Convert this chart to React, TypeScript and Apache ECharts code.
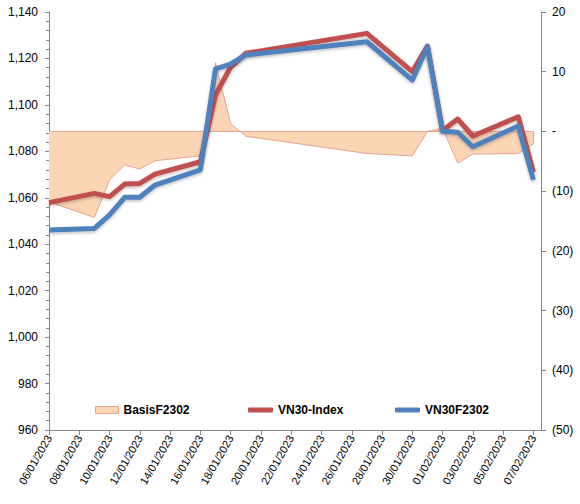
import React, { useEffect, useRef } from "react";
import * as echarts from "echarts";

const dates = [
  "06/01/2023", "09/01/2023", "10/01/2023", "11/01/2023", "12/01/2023", "13/01/2023",
  "16/01/2023", "17/01/2023", "18/01/2023", "19/01/2023", "27/01/2023", "30/01/2023",
  "31/01/2023", "01/02/2023", "02/02/2023", "03/02/2023", "06/02/2023", "07/02/2023",
];
const vn30Index = [
  1057.9, 1061.9, 1060.5, 1065.9, 1066.2, 1070.2, 1075.5, 1104.3, 1116.3, 1122.2,
  1130.8, 1114.3, 1125.3, 1089.0, 1093.9, 1086.6, 1094.9, 1071.0,
];
const vn30F2302 = [
  1046.1, 1046.8, 1052.6, 1060.2, 1060.2, 1065.5, 1072.0, 1115.5, 1117.6, 1121.5,
  1127.2, 1110.7, 1125.1, 1088.6, 1088.2, 1082.0, 1090.9, 1067.7,
];
const basisF2302 = [
  -11.8, -14.4, -8.1, -5.6, -6.3, -4.9, -4.1, 11.5, 1.3, -0.8,
  -3.7, -4.1, 0.0, 0.5, -5.3, -3.8, -3.7, -2.1,
];
const leftTicks = { min: 960, max: 1140, step: 20 };
const rightTicks = { min: -50, max: 20, step: 10 };

const DAY = 86400000;
const parseDate = (s: string) => {
  const [d, m, y] = s.split("/").map(Number);
  return Date.UTC(y, m - 1, d);
};
const base = parseDate(dates[0]);
const dayOf = (s: string) => Math.round((parseDate(s) - base) / DAY);
const fmtDay = (v: number) => {
  const t = new Date(base + v * DAY);
  const dd = String(t.getUTCDate()).padStart(2, "0");
  const mm = String(t.getUTCMonth() + 1).padStart(2, "0");
  return `${dd}/${mm}/${t.getUTCFullYear()}`;
};

const FONT = 'Arial, "Liberation Sans", sans-serif';
const AXIS = "#868686";
const RED = "#c0504d";
const BLUE = "#4f81bd";
const PEACH = "#fcd5b5";
const PEACH_LINE = "#e3a48e";

export default function App() {
  const ref = useRef<HTMLDivElement>(null);
  useEffect(() => {
    document.body.style.margin = "0";
    const chart = echarts.init(ref.current!, undefined, { renderer: "svg" });
    const xs = dates.map(dayOf);
    const lastX = xs[xs.length - 1];
    const pairs = (vals: number[]) => xs.map((x, i) => [x, vals[i]]);
    const lineShadow = { shadowBlur: 3, shadowColor: "rgba(0,0,0,0.25)", shadowOffsetY: 1.5 };
    const legendText = { fontFamily: FONT, fontSize: 12, fontWeight: "bold" as const, color: "#000" };
    chart.setOption({
      animation: false,
      grid: { left: 49, right: 39, top: 12, bottom: 74, containLabel: false },
      legend: [
        {
          data: [{ name: "BasisF2302", icon: "rect", itemStyle: { color: PEACH, borderColor: PEACH_LINE, borderWidth: 1 } }],
          left: 95, top: 404, padding: 0, itemWidth: 23, itemHeight: 7, textStyle: legendText,
        },
        {
          data: [{ name: "VN30-Index", icon: "roundRect", itemStyle: { color: RED } }],
          left: 248, top: 404, padding: 0, itemWidth: 25, itemHeight: 5, textStyle: legendText,
        },
        {
          data: [{ name: "VN30F2302", icon: "roundRect", itemStyle: { color: BLUE } }],
          left: 395, top: 404, padding: 0, itemWidth: 25, itemHeight: 5, textStyle: legendText,
        },
      ],
      xAxis: {
        type: "value",
        min: 0,
        max: lastX + 0.5,
        interval: 2,
        axisLine: { onZero: false, lineStyle: { color: AXIS } },
        axisTick: { show: true, length: 5, lineStyle: { color: AXIS } },
        splitLine: { show: false },
        axisLabel: {
          rotate: 60,
          margin: 6,
          showMaxLabel: false,
          fontFamily: FONT,
          fontSize: 11,
          color: "#000",
          formatter: (v: number) => (Number.isInteger(v) ? fmtDay(v) : ""),
        },
      },
      yAxis: [
        {
          type: "value",
          min: leftTicks.min,
          max: leftTicks.max,
          interval: leftTicks.step,
          position: "left",
          axisLine: { show: true, lineStyle: { color: AXIS } },
          axisTick: { show: true, length: 4, lineStyle: { color: AXIS } },
          minorTick: { show: true, splitNumber: 5, length: 3, lineStyle: { color: AXIS } },
          splitLine: { show: false },
          axisLabel: {
            margin: 11,
            fontFamily: FONT,
            fontSize: 12,
            color: "#000",
            formatter: (v: number) => v.toLocaleString("en-US"),
          },
        },
        {
          type: "value",
          min: rightTicks.min,
          max: rightTicks.max,
          interval: rightTicks.step,
          position: "right",
          axisLine: { show: true, lineStyle: { color: AXIS } },
          axisTick: { show: true, length: 5, lineStyle: { color: AXIS } },
          splitLine: { show: false },
          axisLabel: {
            margin: 11,
            fontFamily: FONT,
            fontSize: 12,
            color: "#000",
            formatter: (v: number) => (v === 0 ? "-" : v < 0 ? `(${Math.abs(v)})` : `${v}`),
          },
        },
      ],
      series: [
        {
          name: "BasisF2302",
          type: "line",
          yAxisIndex: 1,
          data: pairs(basisF2302),
          showSymbol: false,
          lineStyle: { color: PEACH_LINE, width: 1 },
          itemStyle: { color: PEACH },
          areaStyle: { color: PEACH, opacity: 1 },
          z: 1,
        },
        {
          name: "basis-outline",
          type: "line",
          yAxisIndex: 1,
          data: [[xs[0], 0], [lastX, 0], [lastX, basisF2302[basisF2302.length - 1]]],
          showSymbol: false,
          silent: true,
          lineStyle: { color: PEACH_LINE, width: 1 },
          z: 1,
        },
        {
          name: "VN30-Index",
          type: "line",
          yAxisIndex: 0,
          data: pairs(vn30Index),
          showSymbol: false,
          lineStyle: { color: RED, width: 5, join: "round", ...lineShadow },
          itemStyle: { color: RED },
          z: 2,
        },
        {
          name: "VN30F2302",
          type: "line",
          yAxisIndex: 0,
          data: pairs(vn30F2302),
          showSymbol: false,
          lineStyle: { color: BLUE, width: 5, join: "round", ...lineShadow },
          itemStyle: { color: BLUE },
          z: 3,
        },
      ],
    });
    return () => chart.dispose();
  }, []);
  return <div ref={ref} style={{ width: 580, height: 504 }} />;
}
